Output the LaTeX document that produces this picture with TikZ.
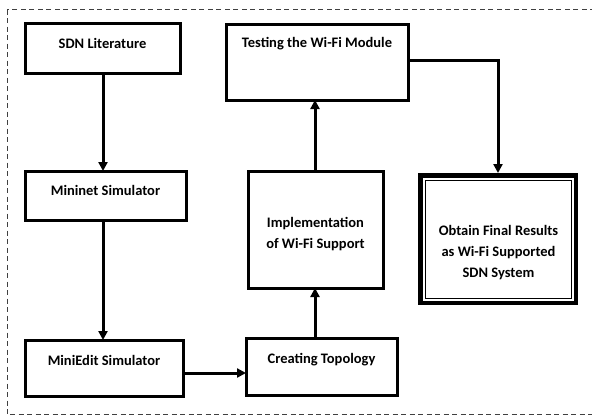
\documentclass[tikz,border=0pt]{standalone}
\usepackage{fontspec}
\setmainfont{Carlito}
\usetikzlibrary{arrows.meta}
\begin{document}
\begin{tikzpicture}[x=1pt,y=-1pt,
  box/.style={draw=black,line width=3pt,inner sep=0pt},
  lbl/.style={font=\fontsize{14.5}{21}\selectfont\bfseries,align=center,inner sep=0pt},
  conn/.style={line width=3pt,-{Triangle[length=9pt,width=9pt]}}]
\useasboundingbox (0,0) rectangle (592,416);
\begin{scope}
\clip (0,0) rectangle (592,416);
\draw[black!75,line width=1pt,dash pattern=on 5pt off 3.5pt] (7,9.5) rectangle (610,414.5);
\end{scope}
% boxes
\draw[box] (25,23) rectangle (180,73) coordinate (b1se);
\coordinate (b1) at (102.5,48);
\draw[box] (25,171) rectangle (186,220);
\draw[box] (25,340) rectangle (183,396);
\draw[box] (246,338) rectangle (397,395);
\draw[box] (248,171) rectangle (383,288);
\draw[box] (226,24) rectangle (408,100);
\draw[line width=4.5pt] (420.5,175.5) rectangle (576,303);
\draw[line width=1pt] (425,180) rectangle (571.5,298.5);
% named anchors
\coordinate (sdnB) at (103,73);
\coordinate (minT) at (103,171);
\coordinate (minB) at (103,220);
\coordinate (edT) at (103,340);
\coordinate (edR) at (183,373);
\coordinate (topL) at (246,373);
\coordinate (topT) at (315,338);
\coordinate (impB) at (315,288);
\coordinate (impT) at (315,171);
\coordinate (tstB) at (315,100);
\coordinate (tstR) at (408,60);
\coordinate (bend) at (498,60);
\coordinate (obtT) at (498,173);
% texts
\node[lbl] (t1) at (102.5,43) {SDN Literature};
\node[lbl] (t2) at (105.5,190) {Mininet Simulator};
\node[lbl] (t3) at (104,360) {MiniEdit Simulator};
\node[lbl] (t4) at (321.5,360) {Creating Topology};
\node[lbl] (t5) at (315.5,234) {Implementation\\of Wi-Fi Support};
\node[lbl] (t6) at (317,44) {Testing the Wi-Fi Module};
\node[lbl] (t7) at (498.5,253) {Obtain Final Results\\as Wi-Fi Supported\\SDN System};
% connectors
\draw[conn] (sdnB) -- (minT);
\draw[conn] (minB) -- (edT);
\draw[conn] (edR) -- (topL);
\draw[conn] (topT) -- (impB);
\draw[conn] (impT) -- (tstB);
\draw[conn] (tstR) -- (bend) -- (obtT);
\end{tikzpicture}
\end{document}
